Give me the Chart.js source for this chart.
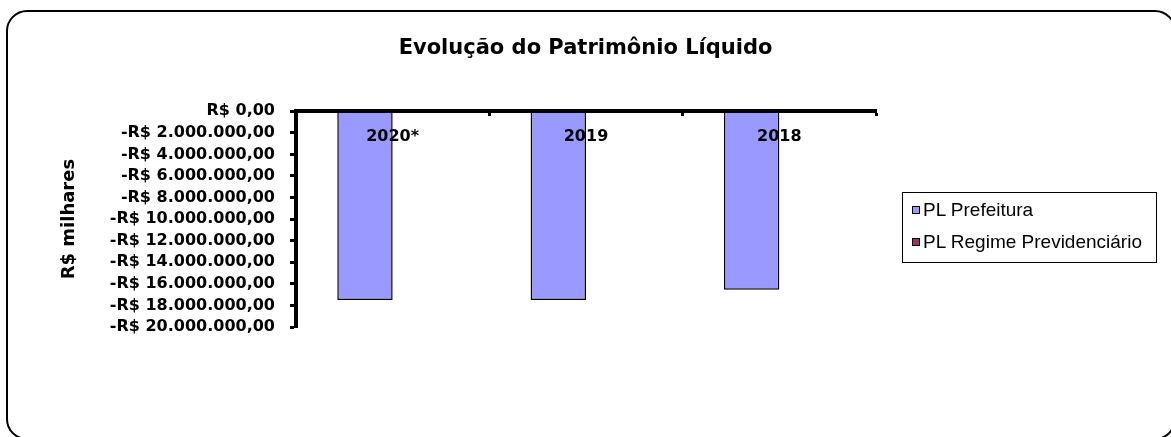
<!DOCTYPE html>
<html lang="pt-BR">
<head>
<meta charset="utf-8">
<title>Evolução do Patrimônio Líquido</title>
<script src="https://cdn.jsdelivr.net/npm/chart.js@4.4.1/dist/chart.umd.min.js"></script>
<style>
  html, body { margin: 0; padding: 0; background: #fff; }
  #wrap { position: relative; width: 1171px; height: 437px; overflow: hidden; }
  #frame {
    position: absolute; left: 6px; top: 10px; width: 1170px; height: 430px;
    border: 2.5px solid #000; border-radius: 21px; box-sizing: border-box;
  }
  #myChart { position: absolute; left: 0; top: 0; }
  #legend {
    position: absolute; left: 902px; top: 192px; width: 255px; height: 71px;
    border: 1px solid #000; box-sizing: border-box;
    font-family: "Liberation Sans", Arial, sans-serif; font-size: 19px; color: #000;
    padding-top: 1px;
  }
  #legend .item { display: flex; align-items: center; height: 32px; padding-left: 9px; }
  #legend .box { width: 6px; height: 6px; border: 1.5px solid #000; margin-right: 3px; }
</style>
</head>
<body>
<div id="wrap">
  <div id="frame"></div>
  <canvas id="myChart" width="1171" height="437"></canvas>
  <div id="legend"></div>
</div>
<script>
const categories = ['2020*', '2019', '2018']
const plPrefeitura = [-17500000, -17500000, -16550000]
const plRegime = [0, 0, 0]
const seriesNames = ['PL Prefeitura', 'PL Regime Previdenciário']
const seriesColors = ['#9999ff', '#993366']

// valores no formato R$ brasileiro
const brl = (v) => {
  const abs = Math.abs(v).toFixed(0).replace(/\B(?=(\d{3})+(?!\d))/g, '.')
  return (v < 0 ? '-' : '') + 'R$ ' + abs + ',00'
}

const boldFont = (size) => ({family: 'DejaVu Sans', weight: 'bold', size: size})

const config = {
  type: 'bar',
  data: {
    labels: categories,
    datasets: [
      {label: seriesNames[0], data: plPrefeitura, backgroundColor: seriesColors[0]},
      {label: seriesNames[1], data: plRegime, backgroundColor: seriesColors[1]},
    ]
  },
  options: {
    responsive: false,
    animation: false,
    devicePixelRatio: 1,
    categoryPercentage: 0.573,
    barPercentage: 1,
    borderColor: '#000',
    borderWidth: 1.5,
    layout: {padding: {top: 36, left: 0, right: 0, bottom: 110}},
    scales: {
      x: {
        position: {y: 0},
        offset: true,
        grid: {offset: true, drawOnChartArea: false, tickLength: 3, tickWidth: 3, tickColor: '#000', z: 1},
        border: {color: '#000', width: 4, z: 1},
        // rótulos por cima das barras
        ticks: {padding: 13, color: '#000', font: boldFont(16), z: 1},
      },
      y: {
        min: -20000000,
        max: 0,
        afterFit: (scale) => { scale.width = 296 },
        grid: {drawOnChartArea: false, tickLength: 6, tickWidth: 3, tickColor: '#000'},
        border: {color: '#000', width: 4, z: 1},
        ticks: {
          stepSize: 2000000,
          autoSkip: false,
          padding: 15,
          color: '#000',
          font: boldFont(16),
          callback: (v) => brl(v),
        },
        title: {
          display: true,
          text: 'R$ milhares',
          color: '#000',
          font: boldFont(18),
          padding: {top: 59, bottom: 0},
        },
      },
      // espaço vazio à direita, onde fica a legenda
      spacer: {
        type: 'linear',
        position: 'right',
        grid: {display: false},
        border: {display: false},
        ticks: {display: false},
        afterFit: (scale) => { scale.width = 295 },
      },
    },
    plugins: {
      legend: {display: false},
      tooltip: {enabled: false},
      title: {
        display: true,
        text: 'Evolução do Patrimônio Líquido',
        color: '#000',
        font: boldFont(21),
        padding: {top: 0, bottom: 50},
      },
    },
  }
}

const myChart = new Chart(document.getElementById('myChart'), config)

// legenda à direita, com caixa
const legendEl = document.getElementById('legend')
myChart.data.datasets.forEach(ds => {
  const item = document.createElement('div')
  item.className = 'item'
  const box = document.createElement('span')
  box.className = 'box'
  box.style.background = ds.backgroundColor
  const txt = document.createElement('span')
  txt.textContent = ds.label
  item.appendChild(box)
  item.appendChild(txt)
  legendEl.appendChild(item)
})
</script>
</body>
</html>
